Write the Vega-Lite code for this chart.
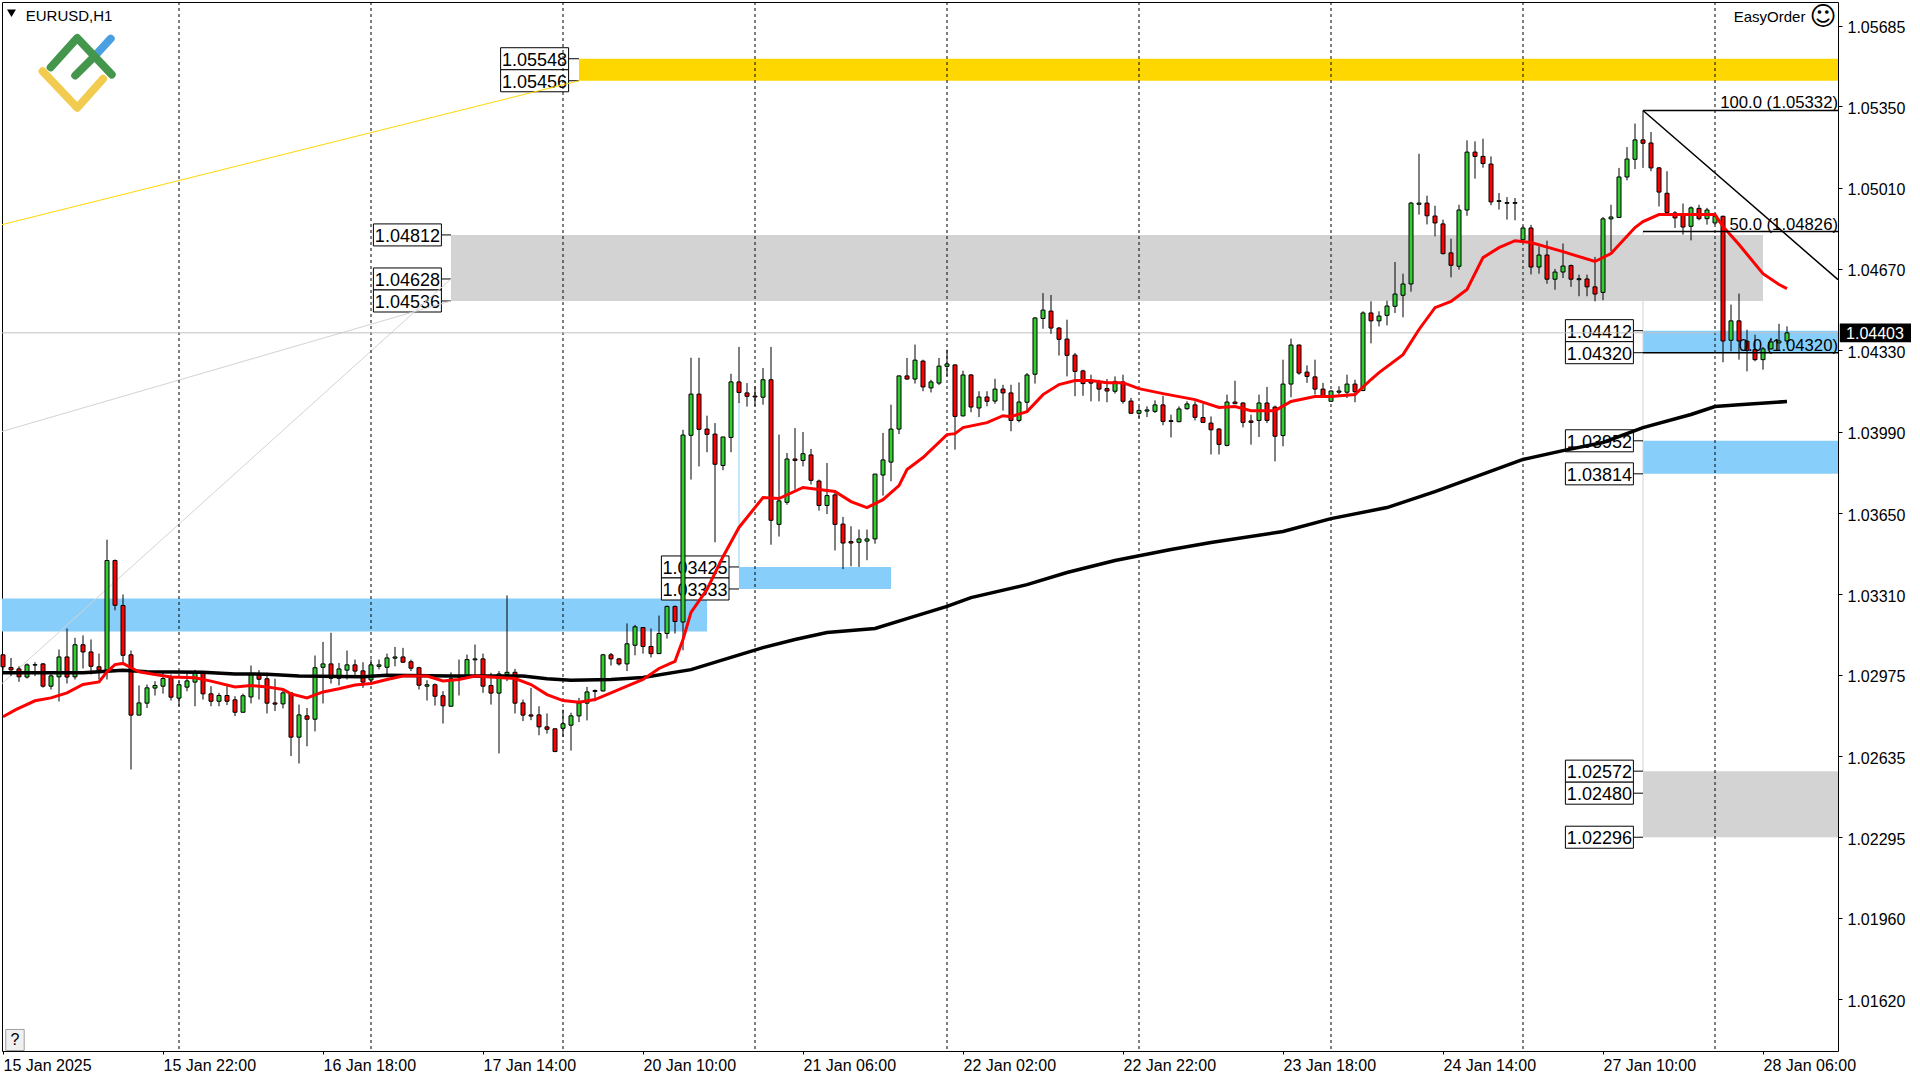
{
"$schema":"https://vega.github.io/schema/vega-lite/v6.json",
"description":"EURUSD H1 candlestick chart with moving averages, price zones and Fibonacci levels.",
"width":1836,"height":1049,
"autosize":{"type":"none"},
"padding":{"left":2,"top":2,"right":82,"bottom":29},
"background":"white",
"config":{"view":{"stroke":"black","strokeWidth":1},"font":"Liberation Sans","text":{"font":"Liberation Sans"}},
"datasets":{
"candles":[
{"i":0,"o":1.03058,"h":1.03058,"l":1.02992,"c":1.03008},
{"i":1,"o":1.03005,"h":1.03045,"l":1.02969,"c":1.02995},
{"i":2,"o":1.02999,"h":1.0301,"l":1.02945,"c":1.02966},
{"i":3,"o":1.02965,"h":1.03022,"l":1.02959,"c":1.03016},
{"i":4,"o":1.03015,"h":1.03027,"l":1.02969,"c":1.03017},
{"i":5,"o":1.0302,"h":1.03024,"l":1.02921,"c":1.02927},
{"i":6,"o":1.02927,"h":1.02983,"l":1.02913,"c":1.0297},
{"i":7,"o":1.02966,"h":1.0308,"l":1.02863,"c":1.03049},
{"i":8,"o":1.03049,"h":1.03168,"l":1.02938,"c":1.02965},
{"i":9,"o":1.02966,"h":1.03129,"l":1.02955,"c":1.031},
{"i":10,"o":1.031,"h":1.03139,"l":1.03001,"c":1.0307},
{"i":11,"o":1.0307,"h":1.03122,"l":1.02976,"c":1.0301},
{"i":12,"o":1.03008,"h":1.03063,"l":1.02955,"c":1.02994},
{"i":13,"o":1.02994,"h":1.03539,"l":1.02955,"c":1.03452},
{"i":14,"o":1.03452,"h":1.03456,"l":1.03244,"c":1.03265},
{"i":15,"o":1.03264,"h":1.0331,"l":1.03024,"c":1.03056},
{"i":16,"o":1.03058,"h":1.03076,"l":1.02579,"c":1.02806},
{"i":17,"o":1.02806,"h":1.0293,"l":1.02806,"c":1.02857},
{"i":18,"o":1.02856,"h":1.02934,"l":1.02836,"c":1.0292},
{"i":19,"o":1.02919,"h":1.02948,"l":1.02888,"c":1.0293},
{"i":20,"o":1.02927,"h":1.02983,"l":1.02896,"c":1.02959},
{"i":21,"o":1.02962,"h":1.02976,"l":1.02867,"c":1.02881},
{"i":22,"o":1.02877,"h":1.02948,"l":1.02843,"c":1.02933},
{"i":23,"o":1.02923,"h":1.02983,"l":1.02906,"c":1.02949},
{"i":24,"o":1.02944,"h":1.02995,"l":1.02843,"c":1.02985},
{"i":25,"o":1.02983,"h":1.0299,"l":1.02871,"c":1.02895},
{"i":26,"o":1.02895,"h":1.02927,"l":1.02843,"c":1.02864},
{"i":27,"o":1.02864,"h":1.02899,"l":1.02843,"c":1.02888},
{"i":28,"o":1.02888,"h":1.02927,"l":1.02848,"c":1.02864},
{"i":29,"o":1.0287,"h":1.02885,"l":1.02802,"c":1.02818},
{"i":30,"o":1.02818,"h":1.02896,"l":1.02818,"c":1.02887},
{"i":31,"o":1.02882,"h":1.03013,"l":1.02855,"c":1.02977},
{"i":32,"o":1.02974,"h":1.02994,"l":1.02871,"c":1.02956},
{"i":33,"o":1.02958,"h":1.02983,"l":1.02813,"c":1.02856},
{"i":34,"o":1.02857,"h":1.02958,"l":1.02823,"c":1.02852},
{"i":35,"o":1.02853,"h":1.02913,"l":1.02834,"c":1.02899},
{"i":36,"o":1.02899,"h":1.02899,"l":1.02635,"c":1.02714},
{"i":37,"o":1.02714,"h":1.0285,"l":1.02604,"c":1.02807},
{"i":38,"o":1.02803,"h":1.02836,"l":1.02676,"c":1.02789},
{"i":39,"o":1.02789,"h":1.03055,"l":1.02738,"c":1.03004},
{"i":40,"o":1.03006,"h":1.03112,"l":1.02855,"c":1.0302},
{"i":41,"o":1.0302,"h":1.0315,"l":1.02938,"c":1.0296},
{"i":42,"o":1.0296,"h":1.03024,"l":1.0293,"c":1.02999},
{"i":43,"o":1.02994,"h":1.03076,"l":1.02955,"c":1.03016},
{"i":44,"o":1.03016,"h":1.03038,"l":1.02969,"c":1.0299},
{"i":45,"o":1.02991,"h":1.03027,"l":1.0292,"c":1.02944},
{"i":46,"o":1.02953,"h":1.03038,"l":1.02934,"c":1.03016},
{"i":47,"o":1.0301,"h":1.03038,"l":1.02997,"c":1.03016},
{"i":48,"o":1.03006,"h":1.03063,"l":1.02976,"c":1.03045},
{"i":49,"o":1.03044,"h":1.03091,"l":1.0301,"c":1.03049},
{"i":50,"o":1.03049,"h":1.03087,"l":1.03024,"c":1.03027},
{"i":51,"o":1.03029,"h":1.03038,"l":1.0299,"c":1.03002},
{"i":52,"o":1.03004,"h":1.03008,"l":1.02913,"c":1.02931},
{"i":53,"o":1.02927,"h":1.02952,"l":1.02867,"c":1.02933},
{"i":54,"o":1.02933,"h":1.02938,"l":1.02846,"c":1.02885},
{"i":55,"o":1.02887,"h":1.02906,"l":1.02771,"c":1.02845},
{"i":56,"o":1.02843,"h":1.02985,"l":1.02843,"c":1.02958},
{"i":57,"o":1.02965,"h":1.03038,"l":1.02888,"c":1.02969},
{"i":58,"o":1.02969,"h":1.03059,"l":1.02958,"c":1.03038},
{"i":59,"o":1.03037,"h":1.03101,"l":1.02969,"c":1.03041},
{"i":60,"o":1.03041,"h":1.03063,"l":1.02899,"c":1.02927},
{"i":61,"o":1.0293,"h":1.02983,"l":1.0285,"c":1.02898},
{"i":62,"o":1.02898,"h":1.0299,"l":1.02646,"c":1.02978},
{"i":63,"o":1.02976,"h":1.03306,"l":1.02948,"c":1.02985},
{"i":64,"o":1.02985,"h":1.02999,"l":1.02813,"c":1.02856},
{"i":65,"o":1.02857,"h":1.02871,"l":1.02781,"c":1.02806},
{"i":66,"o":1.02807,"h":1.0292,"l":1.02785,"c":1.02802},
{"i":67,"o":1.02807,"h":1.02843,"l":1.02722,"c":1.02757},
{"i":68,"o":1.02757,"h":1.02813,"l":1.02729,"c":1.02747},
{"i":69,"o":1.02749,"h":1.0275,"l":1.02651,"c":1.02654},
{"i":70,"o":1.02751,"h":1.02829,"l":1.02715,"c":1.0277},
{"i":71,"o":1.02764,"h":1.02816,"l":1.02658,"c":1.02803},
{"i":72,"o":1.02803,"h":1.02878,"l":1.02777,"c":1.02857},
{"i":73,"o":1.02856,"h":1.02924,"l":1.02784,"c":1.02903},
{"i":74,"o":1.02905,"h":1.02913,"l":1.02864,"c":1.02909},
{"i":75,"o":1.02907,"h":1.03062,"l":1.02905,"c":1.03058},
{"i":76,"o":1.03058,"h":1.03066,"l":1.03013,"c":1.03041},
{"i":77,"o":1.03041,"h":1.03045,"l":1.03013,"c":1.0302},
{"i":78,"o":1.0302,"h":1.03189,"l":1.0299,"c":1.03104},
{"i":79,"o":1.03098,"h":1.03183,"l":1.03056,"c":1.03175},
{"i":80,"o":1.03172,"h":1.03172,"l":1.03063,"c":1.03093},
{"i":81,"o":1.03093,"h":1.03168,"l":1.03047,"c":1.03063},
{"i":82,"o":1.03063,"h":1.03222,"l":1.03063,"c":1.03147},
{"i":83,"o":1.03147,"h":1.03264,"l":1.03126,"c":1.0326},
{"i":84,"o":1.0326,"h":1.03264,"l":1.03147,"c":1.03197},
{"i":85,"o":1.03195,"h":1.03998,"l":1.03077,"c":1.03976},
{"i":86,"o":1.03975,"h":1.04299,"l":1.0379,"c":1.04147},
{"i":87,"o":1.04147,"h":1.04299,"l":1.03845,"c":1.04},
{"i":88,"o":1.04001,"h":1.04057,"l":1.03904,"c":1.03979},
{"i":89,"o":1.0398,"h":1.04026,"l":1.03528,"c":1.03854},
{"i":90,"o":1.03849,"h":1.03968,"l":1.03829,"c":1.03968},
{"i":91,"o":1.03966,"h":1.04232,"l":1.03904,"c":1.04198},
{"i":92,"o":1.04198,"h":1.04344,"l":1.0411,"c":1.04154},
{"i":93,"o":1.04152,"h":1.04193,"l":1.04095,"c":1.04138},
{"i":94,"o":1.04139,"h":1.04179,"l":1.04096,"c":1.04135},
{"i":95,"o":1.04134,"h":1.04256,"l":1.04103,"c":1.04207},
{"i":96,"o":1.04207,"h":1.04344,"l":1.03518,"c":1.0362},
{"i":97,"o":1.03603,"h":1.03978,"l":1.03552,"c":1.03701},
{"i":98,"o":1.03695,"h":1.03901,"l":1.03685,"c":1.03876},
{"i":99,"o":1.03876,"h":1.04005,"l":1.03748,"c":1.0387},
{"i":100,"o":1.0387,"h":1.03989,"l":1.03845,"c":1.03898},
{"i":101,"o":1.03893,"h":1.03918,"l":1.03769,"c":1.03787},
{"i":102,"o":1.03784,"h":1.0379,"l":1.0366,"c":1.03682},
{"i":103,"o":1.03682,"h":1.03859,"l":1.03646,"c":1.03723},
{"i":104,"o":1.03726,"h":1.03734,"l":1.03494,"c":1.03603},
{"i":105,"o":1.03604,"h":1.03634,"l":1.03416,"c":1.03525},
{"i":106,"o":1.03531,"h":1.03595,"l":1.03428,"c":1.03525},
{"i":107,"o":1.03528,"h":1.03581,"l":1.03425,"c":1.03542},
{"i":108,"o":1.03533,"h":1.03581,"l":1.03453,"c":1.03542},
{"i":109,"o":1.03542,"h":1.03813,"l":1.03522,"c":1.03813},
{"i":110,"o":1.03809,"h":1.03985,"l":1.03723,"c":1.03872},
{"i":111,"o":1.03863,"h":1.04103,"l":1.03783,"c":1.04001},
{"i":112,"o":1.04001,"h":1.04225,"l":1.0398,"c":1.04223},
{"i":113,"o":1.04223,"h":1.04298,"l":1.04207,"c":1.0421},
{"i":114,"o":1.0421,"h":1.04354,"l":1.04191,"c":1.04289},
{"i":115,"o":1.04285,"h":1.04291,"l":1.04159,"c":1.04177},
{"i":116,"o":1.04173,"h":1.04207,"l":1.04154,"c":1.04198},
{"i":117,"o":1.04193,"h":1.04298,"l":1.04185,"c":1.04264},
{"i":118,"o":1.04263,"h":1.04333,"l":1.04221,"c":1.04273},
{"i":119,"o":1.04269,"h":1.04271,"l":1.03915,"c":1.04054},
{"i":120,"o":1.04056,"h":1.04245,"l":1.04054,"c":1.04227},
{"i":121,"o":1.04227,"h":1.04231,"l":1.04071,"c":1.04093},
{"i":122,"o":1.04089,"h":1.04159,"l":1.04051,"c":1.04135},
{"i":123,"o":1.04135,"h":1.04159,"l":1.04096,"c":1.04117},
{"i":124,"o":1.04118,"h":1.04211,"l":1.04107,"c":1.04168},
{"i":125,"o":1.04168,"h":1.04186,"l":1.04078,"c":1.04152},
{"i":126,"o":1.04152,"h":1.04186,"l":1.03992,"c":1.04037},
{"i":127,"o":1.04037,"h":1.04196,"l":1.04029,"c":1.04114},
{"i":128,"o":1.04113,"h":1.04235,"l":1.04071,"c":1.04227},
{"i":129,"o":1.0423,"h":1.04469,"l":1.04191,"c":1.04465},
{"i":130,"o":1.04463,"h":1.04569,"l":1.0442,"c":1.04498},
{"i":131,"o":1.04494,"h":1.04561,"l":1.04399,"c":1.04423},
{"i":132,"o":1.04423,"h":1.04427,"l":1.04308,"c":1.04376},
{"i":133,"o":1.04377,"h":1.04458,"l":1.04221,"c":1.04309},
{"i":134,"o":1.0431,"h":1.04319,"l":1.04138,"c":1.04242},
{"i":135,"o":1.04244,"h":1.04249,"l":1.0414,"c":1.04191},
{"i":136,"o":1.042,"h":1.04228,"l":1.04117,"c":1.04193},
{"i":137,"o":1.04196,"h":1.04207,"l":1.04117,"c":1.04168},
{"i":138,"o":1.0417,"h":1.0421,"l":1.04113,"c":1.0416},
{"i":139,"o":1.04159,"h":1.04221,"l":1.04149,"c":1.042},
{"i":140,"o":1.04198,"h":1.04228,"l":1.04107,"c":1.04117},
{"i":141,"o":1.04118,"h":1.04131,"l":1.04065,"c":1.04067},
{"i":142,"o":1.04067,"h":1.04096,"l":1.04047,"c":1.04079},
{"i":143,"o":1.04076,"h":1.04096,"l":1.04051,"c":1.04081},
{"i":144,"o":1.04075,"h":1.04121,"l":1.04068,"c":1.04102},
{"i":145,"o":1.04102,"h":1.0414,"l":1.04017,"c":1.04033},
{"i":146,"o":1.04036,"h":1.04061,"l":1.03966,"c":1.04033},
{"i":147,"o":1.04032,"h":1.04096,"l":1.04029,"c":1.04085},
{"i":148,"o":1.04086,"h":1.04117,"l":1.04082,"c":1.04106},
{"i":149,"o":1.04102,"h":1.04117,"l":1.04037,"c":1.0405},
{"i":150,"o":1.04049,"h":1.04107,"l":1.04026,"c":1.04029},
{"i":151,"o":1.04026,"h":1.04054,"l":1.03895,"c":1.03998},
{"i":152,"o":1.04001,"h":1.04005,"l":1.03895,"c":1.03937},
{"i":153,"o":1.03933,"h":1.04145,"l":1.03929,"c":1.04114},
{"i":154,"o":1.04114,"h":1.04203,"l":1.04107,"c":1.04107},
{"i":155,"o":1.0411,"h":1.04113,"l":1.04008,"c":1.04029},
{"i":156,"o":1.04035,"h":1.04061,"l":1.03936,"c":1.04029},
{"i":157,"o":1.04037,"h":1.04145,"l":1.03968,"c":1.0411},
{"i":158,"o":1.0411,"h":1.04177,"l":1.04026,"c":1.04037},
{"i":159,"o":1.04093,"h":1.04099,"l":1.03866,"c":1.03971},
{"i":160,"o":1.03974,"h":1.04291,"l":1.03929,"c":1.04189},
{"i":161,"o":1.04189,"h":1.04379,"l":1.04134,"c":1.04352},
{"i":162,"o":1.04352,"h":1.04354,"l":1.04228,"c":1.04235},
{"i":163,"o":1.04239,"h":1.04267,"l":1.04194,"c":1.04221},
{"i":164,"o":1.04219,"h":1.04291,"l":1.04145,"c":1.04168},
{"i":165,"o":1.04168,"h":1.04194,"l":1.04131,"c":1.04141},
{"i":166,"o":1.04117,"h":1.04163,"l":1.04117,"c":1.0416},
{"i":167,"o":1.04155,"h":1.0418,"l":1.04145,"c":1.0416},
{"i":168,"o":1.04155,"h":1.04228,"l":1.04131,"c":1.04189},
{"i":169,"o":1.04189,"h":1.04207,"l":1.04113,"c":1.04157},
{"i":170,"o":1.04162,"h":1.04493,"l":1.04159,"c":1.04486},
{"i":171,"o":1.04486,"h":1.04535,"l":1.04359,"c":1.04453},
{"i":172,"o":1.04453,"h":1.04493,"l":1.0443,"c":1.04473},
{"i":173,"o":1.04476,"h":1.04537,"l":1.04434,"c":1.04515},
{"i":174,"o":1.04514,"h":1.04699,"l":1.04486,"c":1.04565},
{"i":175,"o":1.0456,"h":1.0465,"l":1.04468,"c":1.04607},
{"i":176,"o":1.04607,"h":1.0495,"l":1.04575,"c":1.04945},
{"i":177,"o":1.0494,"h":1.05151,"l":1.04897,"c":1.04945},
{"i":178,"o":1.04945,"h":1.04976,"l":1.04856,"c":1.04892},
{"i":179,"o":1.04891,"h":1.04934,"l":1.04806,"c":1.04862},
{"i":180,"o":1.04858,"h":1.04876,"l":1.0473,"c":1.04734},
{"i":181,"o":1.04737,"h":1.04796,"l":1.04635,"c":1.04685},
{"i":182,"o":1.04681,"h":1.04938,"l":1.04667,"c":1.04916},
{"i":183,"o":1.04916,"h":1.05207,"l":1.04892,"c":1.05158},
{"i":184,"o":1.05158,"h":1.05203,"l":1.05047,"c":1.0514},
{"i":185,"o":1.0514,"h":1.05214,"l":1.05093,"c":1.0511},
{"i":186,"o":1.05108,"h":1.0514,"l":1.04936,"c":1.0495},
{"i":187,"o":1.04952,"h":1.04987,"l":1.04918,"c":1.04955},
{"i":188,"o":1.04944,"h":1.0497,"l":1.04876,"c":1.04947},
{"i":189,"o":1.04944,"h":1.04966,"l":1.04873,"c":1.04947},
{"i":190,"o":1.04792,"h":1.04848,"l":1.04785,"c":1.04841},
{"i":191,"o":1.04841,"h":1.04854,"l":1.04647,"c":1.04678},
{"i":192,"o":1.04678,"h":1.04764,"l":1.0465,"c":1.04728},
{"i":193,"o":1.04728,"h":1.04788,"l":1.04608,"c":1.04627},
{"i":194,"o":1.04627,"h":1.0467,"l":1.04583,"c":1.04657},
{"i":195,"o":1.04657,"h":1.04776,"l":1.04632,"c":1.04682},
{"i":196,"o":1.04684,"h":1.04688,"l":1.04595,"c":1.04627},
{"i":197,"o":1.04625,"h":1.04646,"l":1.04556,"c":1.04629},
{"i":198,"o":1.04628,"h":1.04646,"l":1.04556,"c":1.04595},
{"i":199,"o":1.04595,"h":1.0472,"l":1.04535,"c":1.04565},
{"i":200,"o":1.04572,"h":1.04887,"l":1.04539,"c":1.04879},
{"i":201,"o":1.04879,"h":1.04938,"l":1.04744,"c":1.04887},
{"i":202,"o":1.04885,"h":1.05092,"l":1.04885,"c":1.05054},
{"i":203,"o":1.05054,"h":1.05179,"l":1.0504,"c":1.05129},
{"i":204,"o":1.05128,"h":1.05277,"l":1.05087,"c":1.05209},
{"i":205,"o":1.05209,"h":1.05331,"l":1.05092,"c":1.05195},
{"i":206,"o":1.05196,"h":1.05242,"l":1.05078,"c":1.05092},
{"i":207,"o":1.05092,"h":1.05096,"l":1.04931,"c":1.04991},
{"i":208,"o":1.04986,"h":1.05078,"l":1.04904,"c":1.04906},
{"i":209,"o":1.04904,"h":1.04911,"l":1.04841,"c":1.04883},
{"i":210,"o":1.04897,"h":1.04943,"l":1.04813,"c":1.04845},
{"i":211,"o":1.04848,"h":1.04931,"l":1.04789,"c":1.04925},
{"i":212,"o":1.04923,"h":1.04938,"l":1.04873,"c":1.0488},
{"i":213,"o":1.0488,"h":1.04925,"l":1.04855,"c":1.04916},
{"i":214,"o":1.04862,"h":1.0489,"l":1.04855,"c":1.0489},
{"i":215,"o":1.0489,"h":1.04892,"l":1.0428,"c":1.04369},
{"i":216,"o":1.04372,"h":1.04521,"l":1.04326,"c":1.04453},
{"i":217,"o":1.04453,"h":1.04567,"l":1.04291,"c":1.04369},
{"i":218,"o":1.04368,"h":1.04416,"l":1.04242,"c":1.0433},
{"i":219,"o":1.04333,"h":1.04395,"l":1.04284,"c":1.04291},
{"i":220,"o":1.04291,"h":1.04344,"l":1.04249,"c":1.04336},
{"i":221,"o":1.04336,"h":1.04382,"l":1.04333,"c":1.04365},
{"i":222,"o":1.04361,"h":1.04441,"l":1.0433,"c":1.04369},
{"i":223,"o":1.04369,"h":1.0443,"l":1.04354,"c":1.04403}
],
"ema":[
{"i":0,"v":1.02799},{"i":1.6,"v":1.02829},{"i":4,"v":1.02866},{"i":6,"v":1.02878},{"i":8,"v":1.02899},{"i":10,"v":1.02934},{"i":12,"v":1.02945},{"i":13,"v":1.02987},{"i":14,"v":1.03017},{"i":15,"v":1.03022},{"i":16,"v":1.03004},{"i":17,"v":1.02987},{"i":19,"v":1.02976},{"i":21,"v":1.02965},{"i":24,"v":1.02962},{"i":26,"v":1.02948},{"i":29,"v":1.02924},{"i":31,"v":1.0293},{"i":33,"v":1.02924},{"i":35,"v":1.02913},{"i":36,"v":1.02895},{"i":38,"v":1.02878},{"i":40,"v":1.02903},{"i":42,"v":1.02916},{"i":44,"v":1.02932},{"i":46,"v":1.02938},{"i":48,"v":1.02955},{"i":50,"v":1.02969},{"i":53,"v":1.02969},{"i":55,"v":1.02949},{"i":57,"v":1.02955},{"i":59,"v":1.02969},{"i":64,"v":1.02959},{"i":66,"v":1.02934},{"i":68,"v":1.02892},{"i":70,"v":1.02867},{"i":72,"v":1.0286},{"i":74,"v":1.02871},{"i":76,"v":1.02899},{"i":78,"v":1.02927},{"i":80,"v":1.02955},{"i":82,"v":1.03001},{"i":84,"v":1.03031},{"i":85,"v":1.03122},{"i":86,"v":1.03235},{"i":88,"v":1.03331},{"i":90,"v":1.03468},{"i":92,"v":1.0359},{"i":95,"v":1.03715},{"i":97,"v":1.03711},{"i":100,"v":1.03757},{"i":104,"v":1.0374},{"i":106,"v":1.03698},{"i":108,"v":1.03673},{"i":110,"v":1.03706},{"i":112,"v":1.03765},{"i":113,"v":1.03832},{"i":115,"v":1.03882},{"i":118,"v":1.03978},{"i":119,"v":1.03982},{"i":120,"v":1.04007},{"i":123,"v":1.04028},{"i":125,"v":1.04057},{"i":126,"v":1.04053},{"i":128,"v":1.04074},{"i":130,"v":1.04145},{"i":132,"v":1.04187},{"i":134,"v":1.04204},{"i":136,"v":1.04204},{"i":138,"v":1.04195},{"i":140,"v":1.04195},{"i":142,"v":1.0417},{"i":145,"v":1.04149},{"i":149,"v":1.04124},{"i":152,"v":1.04091},{"i":154,"v":1.04095},{"i":156,"v":1.04078},{"i":159,"v":1.04078},{"i":161,"v":1.04116},{"i":164,"v":1.04137},{"i":166,"v":1.04137},{"i":169,"v":1.04145},{"i":171,"v":1.04208},{"i":172,"v":1.04237},{"i":175,"v":1.04312},{"i":177,"v":1.04417},{"i":179,"v":1.04508},{"i":181,"v":1.04534},{"i":183,"v":1.04584},{"i":185,"v":1.04717},{"i":187,"v":1.04759},{"i":189,"v":1.04788},{"i":191,"v":1.0478},{"i":195,"v":1.04742},{"i":199,"v":1.04701},{"i":201,"v":1.04734},{"i":204,"v":1.04843},{"i":205,"v":1.04868},{"i":207,"v":1.04897},{"i":214,"v":1.04897},{"i":215,"v":1.04847},{"i":217,"v":1.04772},{"i":220,"v":1.0465},{"i":222,"v":1.04605},{"i":223,"v":1.04588}
],
"sma":[
{"i":0,"v":1.02983},{"i":10,"v":1.02983},{"i":15,"v":1.02994},{"i":18,"v":1.02987},{"i":25,"v":1.02985},{"i":29,"v":1.02978},{"i":33,"v":1.02977},{"i":37,"v":1.0297},{"i":45,"v":1.02966},{"i":48,"v":1.02973},{"i":56,"v":1.02969},{"i":65,"v":1.02969},{"i":68,"v":1.02958},{"i":71,"v":1.02952},{"i":76,"v":1.02955},{"i":80,"v":1.02963},{"i":86,"v":1.02996},{"i":91,"v":1.03047},{"i":95,"v":1.03088},{"i":99,"v":1.03122},{"i":103,"v":1.03151},{"i":109,"v":1.03168},{"i":113,"v":1.03209},{"i":118,"v":1.0326},{"i":121,"v":1.03297},{"i":128,"v":1.03351},{"i":133,"v":1.03402},{"i":139,"v":1.03452},{"i":146,"v":1.03498},{"i":151,"v":1.03527},{"i":160,"v":1.03573},{"i":166,"v":1.03627},{"i":173,"v":1.03673},{"i":179,"v":1.0374},{"i":190,"v":1.03874},{"i":195,"v":1.03911},{"i":200,"v":1.03945},{"i":205,"v":1.04007},{"i":211,"v":1.04062},{"i":214,"v":1.04095},{"i":217,"v":1.04103},{"i":223,"v":1.04116}
],
"zones":[
{"kind":"gold","a":72,"b":229.375,"top":1.05548,"bot":1.05456},
{"kind":"grey","a":56,"b":220,"top":1.04812,"bot":1.04536},
{"kind":"blue","a":-0.125,"b":88,"top":1.03293,"bot":1.03155},
{"kind":"blue","a":92,"b":111,"top":1.03425,"bot":1.03333},
{"kind":"grey","a":205,"b":229.375,"top":1.02572,"bot":1.02296},
{"kind":"blue","a":205,"b":229.375,"top":1.04412,"bot":1.0432},
{"kind":"blue","a":205,"b":229.375,"top":1.03952,"bot":1.03814}
],
"boxes":[
{"t":"1.05548","p":1.05548,"a":62.2,"b":70.7,"c":66.45,"z":72,"top":1.05594,"bot":1.05502},
{"t":"1.05456","p":1.05456,"a":62.2,"b":70.7,"c":66.45,"z":72,"top":1.05502,"bot":1.0541},
{"t":"1.04812","p":1.04812,"a":46.3,"b":54.8,"c":50.55,"z":56,"top":1.04858,"bot":1.04766},
{"t":"1.04628","p":1.04628,"a":46.3,"b":54.8,"c":50.55,"z":56,"top":1.04674,"bot":1.04582},
{"t":"1.04536","p":1.04536,"a":46.3,"b":54.8,"c":50.55,"z":56,"top":1.04582,"bot":1.0449},
{"t":"1.03425","p":1.03425,"a":82.3,"b":90.75,"c":86.5,"z":92,"top":1.03471,"bot":1.03379},
{"t":"1.03333","p":1.03333,"a":82.3,"b":90.75,"c":86.5,"z":92,"top":1.03379,"bot":1.03287},
{"t":"1.04412","p":1.04412,"a":195.3,"b":203.8,"c":199.55,"z":205,"top":1.04458,"bot":1.04366},
{"t":"1.04320","p":1.0432,"a":195.3,"b":203.8,"c":199.55,"z":205,"top":1.04366,"bot":1.04274},
{"t":"1.03952","p":1.03952,"a":195.3,"b":203.8,"c":199.55,"z":205,"top":1.03998,"bot":1.03906},
{"t":"1.03814","p":1.03814,"a":195.3,"b":203.8,"c":199.55,"z":205,"top":1.0386,"bot":1.03768},
{"t":"1.02572","p":1.02572,"a":195.3,"b":203.8,"c":199.55,"z":205,"top":1.02618,"bot":1.02526},
{"t":"1.02480","p":1.0248,"a":195.3,"b":203.8,"c":199.55,"z":205,"top":1.02526,"bot":1.02434},
{"t":"1.02296","p":1.02296,"a":195.3,"b":203.8,"c":199.55,"z":205,"top":1.02342,"bot":1.0225}
],
"diag":[
{"part":"gold","i":-0.125,"p":1.04855},{"part":"gold","i":72,"p":1.05456},
{"part":"grey1","i":-0.125,"p":1.03991},{"part":"grey1","i":56,"p":1.04536},
{"part":"grey2","i":-0.125,"p":1.02938},{"part":"grey2","i":56,"p":1.04628}
],
"fib":[
{"t":"100.0 (1.05332)","p":1.05332,"a":205,"b":229.375},
{"t":"50.0 (1.04826)","p":1.04826,"a":205,"b":229.375},
{"t":"0.0 (1.04320)","p":1.0432,"a":205,"b":229.375}
],
"logo":[
{"part":"blue","i":11.43,"p":1.05558},{"part":"blue","i":13.46,"p":1.05632},
{"part":"green1","i":5.96,"p":1.05512},{"part":"green1","i":9.28,"p":1.05635},{"part":"green1","i":13.59,"p":1.05482},
{"part":"green2","i":9.03,"p":1.05478},{"part":"green2","i":11.43,"p":1.05558},
{"part":"yellow","i":4.95,"p":1.05496},{"part":"yellow","i":9.28,"p":1.05343},{"part":"yellow","i":12.5,"p":1.05464}
]
},
"layer":[
{"data":{"name":"zones"},"mark":{"type":"bar"},
 "encoding":{
  "x":{"field":"a","type":"quantitative","title":null,"scale":{"domain":[-0.125,229.375],"nice":false,"zero":false,"padding":0},
   "axis":{"title":null,"grid":false,"domain":false,"values":[0,20,40,60,80,100,120,140,160,180,200,220],
    "labelExpr":"['15 Jan 2025','15 Jan 22:00','16 Jan 18:00','17 Jan 14:00','20 Jan 10:00','21 Jan 06:00','22 Jan 02:00','22 Jan 22:00','23 Jan 18:00','24 Jan 14:00','27 Jan 10:00','28 Jan 06:00'][datum.value/20]",
    "labelAlign":"left","labelFont":"Liberation Sans","labelFontSize":16,"labelColor":"black","labelPadding":3,"labelOverlap":false,"labelFlush":false,"labelBound":false,"tickSize":3,"tickColor":"black"}},
  "x2":{"field":"b"},
  "y":{"field":"top","type":"quantitative","title":null,"scale":{"domain":[1.01403,1.05785],"nice":false,"zero":false,"padding":0},
   "axis":{"title":null,"orient":"right","grid":false,"domain":false,"format":".5f",
    "values":[1.05685,1.0535,1.0501,1.0467,1.0433,1.0399,1.0365,1.0331,1.02975,1.02635,1.02295,1.0196,1.0162],
    "labelFont":"Liberation Sans","labelFontSize":16,"labelColor":"black","labelPadding":5,"labelOffset":2,"labelOverlap":false,"labelBound":false,"tickSize":4,"tickColor":"black"}},
  "y2":{"field":"bot"},
  "color":{"field":"kind","type":"nominal","legend":null,"scale":{"domain":["gold","grey","blue"],"range":["#FFD700","#D3D3D3","#87CEFA"]}}
 }},
{"data":{"values":[{"i":92,"a":1.03425,"b":1.04116}]},"mark":{"type":"rule","color":"#87CEFA","strokeWidth":1},
 "encoding":{"x":{"field":"i","type":"quantitative","title":null},"y":{"field":"a","type":"quantitative","title":null},"y2":{"field":"b"}}},
{"data":{"values":[{"i":205,"a":1.02572,"b":1.04826}]},"mark":{"type":"rule","color":"#D3D3D3","strokeWidth":1},
 "encoding":{"x":{"field":"i","type":"quantitative","title":null},"y":{"field":"a","type":"quantitative","title":null},"y2":{"field":"b"}}},
{"data":{"name":"boxes"},"mark":{"type":"rule","color":"black","strokeWidth":1},
 "encoding":{"x":{"field":"b","type":"quantitative","title":null},"x2":{"field":"z"},"y":{"field":"p","type":"quantitative","title":null}}},
{"data":{"name":"boxes"},"mark":{"type":"bar","fill":"white","stroke":"black","strokeWidth":1},
 "encoding":{"x":{"field":"a","type":"quantitative","title":null},"x2":{"field":"b"},"y":{"field":"top","type":"quantitative","title":null},"y2":{"field":"bot"}}},
{"data":{"name":"boxes"},"mark":{"type":"text","font":"Liberation Sans","fontSize":18,"color":"black","align":"center","baseline":"middle","dy":2},
 "encoding":{"x":{"field":"c","type":"quantitative","title":null},"y":{"field":"p","type":"quantitative","title":null},"text":{"field":"t"}}},
{"data":{"name":"diag"},"mark":{"type":"line","strokeWidth":1},
 "encoding":{"x":{"field":"i","type":"quantitative","title":null},"y":{"field":"p","type":"quantitative","title":null},
  "color":{"field":"part","type":"nominal","legend":null,"scale":{"domain":["gold","grey1","grey2"],"range":["#FFD700","#D3D3D3","#D3D3D3"]}}}},
{"data":{"values":[{"i":22},{"i":46},{"i":70},{"i":94},{"i":118},{"i":142},{"i":166},{"i":190},{"i":214}]},
 "mark":{"type":"rule","color":"black","strokeWidth":1,"strokeDash":[3,3]},
 "encoding":{"x":{"field":"i","type":"quantitative","title":null}}},
{"data":{"values":[{"p":1.04403}]},"mark":{"type":"rule","color":"#C0C0C0","strokeWidth":1},
 "encoding":{"y":{"field":"p","type":"quantitative","title":null}}},
{"data":{"name":"candles"},"mark":{"type":"rule","color":"black","strokeWidth":1},
 "encoding":{"x":{"field":"i","type":"quantitative","title":null},"y":{"field":"h","type":"quantitative","title":null},"y2":{"field":"l"}}},
{"data":{"name":"candles"},"mark":{"type":"bar","size":4,"stroke":"black","strokeWidth":1},
 "encoding":{"x":{"field":"i","type":"quantitative","title":null},"y":{"field":"o","type":"quantitative","title":null},"y2":{"field":"c"},
  "fill":{"condition":{"test":"datum.c>=datum.o","value":"#32CD32"},"value":"#FF0000"}}},
{"data":{"name":"sma"},"mark":{"type":"line","color":"black","strokeWidth":3.5},
 "encoding":{"x":{"field":"i","type":"quantitative","title":null},"y":{"field":"v","type":"quantitative","title":null}}},
{"data":{"name":"ema"},"mark":{"type":"line","color":"#FF0000","strokeWidth":3},
 "encoding":{"x":{"field":"i","type":"quantitative","title":null},"y":{"field":"v","type":"quantitative","title":null}}},
{"data":{"name":"fib"},"mark":{"type":"rule","color":"black","strokeWidth":1.5},
 "encoding":{"x":{"field":"a","type":"quantitative","title":null},"x2":{"field":"b"},"y":{"field":"p","type":"quantitative","title":null}}},
{"data":{"values":[{"i":205,"p":1.05332},{"i":229.375,"p":1.04625}]},"mark":{"type":"line","color":"black","strokeWidth":1.5},
 "encoding":{"x":{"field":"i","type":"quantitative","title":null},"y":{"field":"p","type":"quantitative","title":null}}},
{"data":{"name":"fib"},"mark":{"type":"text","font":"Liberation Sans","fontSize":16.7,"color":"black","align":"right","baseline":"alphabetic","dy":-2},
 "encoding":{"x":{"field":"b","type":"quantitative","title":null},"y":{"field":"p","type":"quantitative","title":null},"text":{"field":"t"}}},
{"data":{"name":"logo"},"mark":{"type":"line","strokeWidth":8,"strokeCap":"round","strokeJoin":"round"},
 "encoding":{"x":{"field":"i","type":"quantitative","title":null},"y":{"field":"p","type":"quantitative","title":null},
  "detail":{"field":"part"},
  "color":{"field":"part","type":"nominal","legend":null,"scale":{"domain":["blue","green1","green2","yellow"],"range":["#4A9FE0","#43964C","#43964C","#F2CC50"]}}}},
{"data":{"values":[{"i":1.06,"p":1.05738}]},"mark":{"type":"point","shape":"triangle-down","filled":true,"color":"black","size":80,"opacity":1},
 "encoding":{"x":{"field":"i","type":"quantitative","title":null},"y":{"field":"p","type":"quantitative","title":null}}},
{"data":{"values":[{"i":2.84,"p":1.05732,"t":"EURUSD,H1"}]},"mark":{"type":"text","font":"Liberation Sans","fontSize":15,"color":"black","align":"left","baseline":"middle","dy":1},
 "encoding":{"x":{"field":"i","type":"quantitative","title":null},"y":{"field":"p","type":"quantitative","title":null},"text":{"field":"t"}}},
{"data":{"values":[{"i":225.3,"p":1.05724,"t":"EasyOrder"}]},"mark":{"type":"text","font":"Liberation Sans","fontSize":15,"color":"black","align":"right","baseline":"middle"},
 "encoding":{"x":{"field":"i","type":"quantitative","title":null},"y":{"field":"p","type":"quantitative","title":null},"text":{"field":"t"}}},
{"data":{"values":[{"i":227.5,"p":1.05722,"t":"☺"}]},"mark":{"type":"text","font":"DejaVu Sans","fontSize":26,"color":"black","align":"center","baseline":"middle"},
 "encoding":{"x":{"field":"i","type":"quantitative","title":null},"y":{"field":"p","type":"quantitative","title":null},"text":{"field":"t"}}},
{"data":{"values":[{"a":0.34,"b":2.65,"top":1.01493,"bot":1.01405}]},"mark":{"type":"bar","fill":"#F0F0F0","stroke":"#A0A0A0","strokeWidth":1},
 "encoding":{"x":{"field":"a","type":"quantitative","title":null},"x2":{"field":"b"},"y":{"field":"top","type":"quantitative","title":null},"y2":{"field":"bot"}}},
{"data":{"values":[{"i":1.5,"p":1.01447,"t":"?"}]},"mark":{"type":"text","font":"Liberation Sans","fontSize":16,"color":"black","align":"center","baseline":"middle"},
 "encoding":{"x":{"field":"i","type":"quantitative","title":null},"y":{"field":"p","type":"quantitative","title":null},"text":{"field":"t"}}},
{"data":{"values":[{"a":229.6,"b":238.5,"top":1.04442,"bot":1.04364}]},"mark":{"type":"bar","fill":"black"},
 "encoding":{"x":{"field":"a","type":"quantitative","title":null},"x2":{"field":"b"},"y":{"field":"top","type":"quantitative","title":null},"y2":{"field":"bot"}}},
{"data":{"values":[{"i":234,"p":1.04403,"t":"1.04403"}]},"mark":{"type":"text","font":"Liberation Sans","fontSize":16,"color":"white","align":"center","baseline":"middle","dy":1},
 "encoding":{"x":{"field":"i","type":"quantitative","title":null},"y":{"field":"p","type":"quantitative","title":null},"text":{"field":"t"}}}
],
"resolve":{"scale":{"color":"independent"}}
}
